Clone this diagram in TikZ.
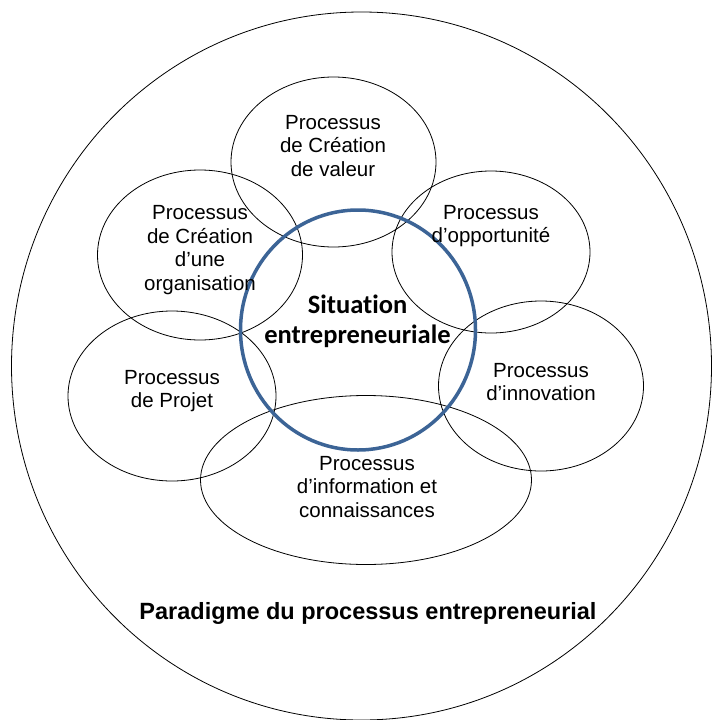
\documentclass[tikz,border=0pt]{standalone}
\usepackage{fontspec}
\setmainfont{Liberation Sans}
\newfontfamily\situfont[Ligatures=NoCommon]{Carlito}
\usetikzlibrary{shapes.geometric}
\definecolor{situblue}{HTML}{3C6496}

\begin{document}
\begin{tikzpicture}[x=1pt,y=-1pt,
                    thin line/.style={draw,line width=0.8pt},
                    proc node/.style={ellipse,thin line,inner sep=0pt,minimum width=205pt,minimum height=170pt},
                    proc text/.style={align=center,inner sep=0pt,font=\fontsize{20.5}{23.6}\selectfont}]
  \useasboundingbox (0,0) rectangle (712,720);

  \node[ellipse,thin line,minimum width=700pt,minimum height=708pt] (paradigme) at (361.5,366) {};

  \node[proc node] (valeur) at (333.5,162) {};
  \node[proc node] (organisation) at (200,255) {};
  \node[proc node,minimum width=198pt,minimum height=162pt] (opportunite) at (491,252) {};
  \node[proc node,minimum width=208pt] (projet) at (172,396) {};
  \node[proc node] (innovation) at (541,386) {};
  \node[proc node,minimum width=331pt,minimum height=169pt] (information) at (366,480) {};

  \node[ellipse,draw=situblue,line width=3.5pt,inner sep=0pt,
        minimum width=235pt,minimum height=240pt] (situation) at (358,330) {};

  \node[proc text] (valeur text) at (333,146) {Processus\\de Création\\de valeur};
  \node[proc text] (organisation text) at (200,250) {Processus\\de Création\\d’une\\organisation};
  \node[proc text] (opportunite text) at (491,226) {Processus\\d’opportunité};
  \node[proc text] (projet text) at (172,391) {Processus\\de Projet};
  \node[proc text] (innovation text) at (541,382) {Processus\\d’innovation};
  \node[proc text] (information text) at (367,487) {Processus\\d’information et\\connaissances};

  \node[align=center,inner sep=0pt,font=\situfont\bfseries\fontsize{26.5}{30}\selectfont]
    (situation text) at (357.5,321) {Situation\\entrepreneuriale};
  \node[inner sep=0pt,font=\bfseries\fontsize{23.5}{28}\selectfont]
    (paradigme text) at (368,613) {Paradigme du processus entrepreneurial};
\end{tikzpicture}
\end{document}
